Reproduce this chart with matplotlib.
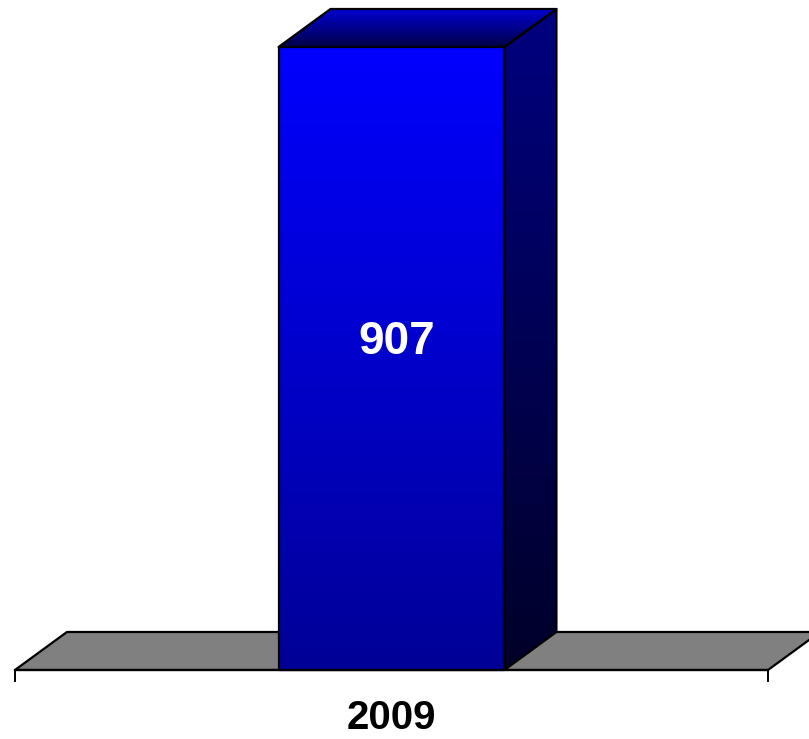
import matplotlib
matplotlib.use("Agg")
import matplotlib.pyplot as plt
import numpy as np
from matplotlib.colors import LinearSegmentedColormap
from matplotlib.patches import Polygon

# data
categories = ["2009"]
values = [907]

# layout (data units)
BAR_W = 0.30
DX, DY = 0.069, 55.3      # 3d depth offset
FLOOR_HALF = 0.5

fig = plt.figure(figsize=(8.09, 7.39), dpi=100)
ax = fig.add_axes([0, 0, 1, 1])
ax.set_xlim(-0.5199, 0.5544)
ax.set_ylim(-100.5, 975.4)
ax.axis("off")


def grad_face(verts, c_top, c_bot, z):
    verts = np.asarray(verts)
    x0, x1 = verts[:, 0].min(), verts[:, 0].max()
    y0, y1 = verts[:, 1].min(), verts[:, 1].max()
    cmap = LinearSegmentedColormap.from_list("g", [c_bot, c_top])
    g = np.linspace(0, 1, 256).reshape(-1, 1)
    im = ax.imshow(g, cmap=cmap, extent=[x0, x1, y0, y1], origin="lower",
                   aspect="auto", zorder=z, interpolation="bilinear")
    poly = Polygon(verts, closed=True, facecolor="none", edgecolor="black",
                   linewidth=1.6, zorder=z + 0.1, joinstyle="round")
    ax.add_patch(poly)
    im.set_clip_path(poly)


# floor
for i, cat in enumerate(categories):
    fl, fr = i - FLOOR_HALF, i + FLOOR_HALF
    floor = Polygon([(fl, 0), (fr, 0), (fr + DX, DY), (fl + DX, DY)],
                    closed=True, facecolor="#808080", edgecolor="black",
                    linewidth=1.6, zorder=1, clip_on=False)
    ax.add_patch(floor)
    ax.plot([fl, fr], [0, 0], color="black", lw=1.6, zorder=1.2)
    for xt in (fl, fr):
        ax.plot([xt, xt], [0, -16], color="black", lw=1.4, zorder=1.2)
    ax.text(i, -70, cat, ha="center", va="center", fontsize=29,
            fontweight="bold", family="Liberation Sans", color="black")

# bars
for i, v in enumerate(values):
    l, r = i - BAR_W / 2, i + BAR_W / 2
    # side
    grad_face([(r, 0), (r + DX, DY), (r + DX, v + DY), (r, v)],
              (0, 0, 0.50), (0, 0, 0.16), 3)
    # top
    grad_face([(l, v), (r, v), (r + DX, v + DY), (l + DX, v + DY)],
              (0, 0, 0.82), (0, 0, 0.28), 3)
    # front
    grad_face([(l, 0), (r, 0), (r, v), (l, v)],
              (0, 0, 1.0), (0, 0, 0.59), 4)
    ax.text(i + 0.007, v * 0.527, f"{v}", ha="center", va="center",
            fontsize=33, fontweight="bold", family="Liberation Sans",
            color="white", zorder=6)

fig.savefig("out.png", dpi=100)
